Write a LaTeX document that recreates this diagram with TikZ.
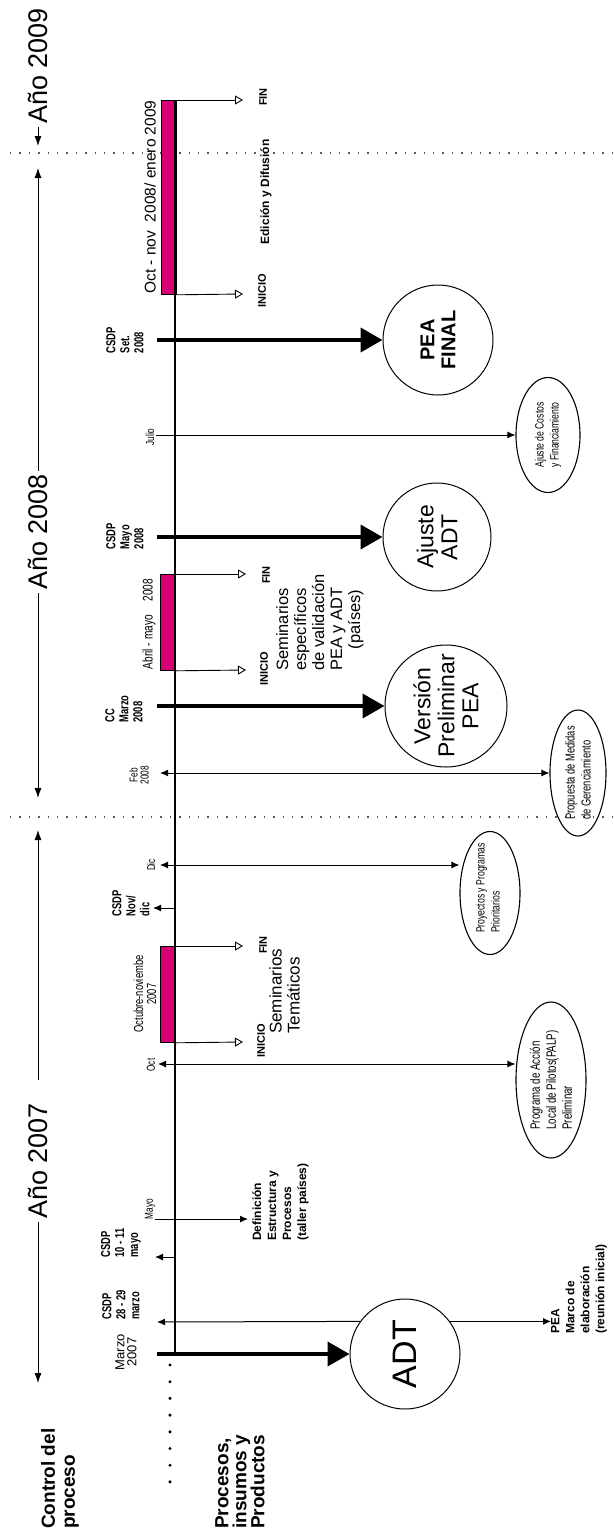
\documentclass[tikz,border=0pt]{standalone}
\usepackage{fontspec}
\setmainfont{Liberation Sans}
\newfontfamily\estrecha[FakeStretch=0.72]{Liberation Sans}
\usetikzlibrary{arrows.meta,shapes.geometric}
\definecolor{fucsia}{RGB}{214,0,116}

\tikzset{
  eje/.style={line width=2.6pt},
  separador/.style={line width=1.3pt, black!65, dash pattern=on 1.4pt off 8pt},
  anio/.style={rotate=90, inner sep=3pt, font={\fontsize{27}{27}\selectfont}},
  flechaanio/.style={-{Latex[length=10pt,width=7pt]}, line width=0.9pt},
  hito/.style={-{Latex[length=8pt,width=7pt]}, line width=1pt},
  hitodoble/.style={{Latex[length=8pt,width=7pt]}-{Latex[length=8pt,width=7pt]}, line width=1pt},
  producto/.style={-{Triangle[length=22pt,width=24pt]}, line width=4pt},
  limite/.style={-{Triangle[open,length=8pt,width=9pt]}, line width=0.9pt},
  periodo/.style={draw, line width=0.8pt, fill=fucsia, inner sep=0pt, anchor=north west, minimum width=15pt},
  resultado/.style={circle, draw, line width=1pt, inner sep=0pt},
  insumo/.style={ellipse, draw, line width=1.1pt, inner sep=0pt},
  fecha/.style={rotate=90, align=left, inner sep=0pt, font={\estrecha\bfseries\fontsize{13}{14}\selectfont}},
  mes/.style={rotate=90, align=center, inner sep=0pt, font={\estrecha\fontsize{11.5}{11}\selectfont}},
  marca/.style={rotate=90, inner sep=0pt, font={\bfseries\fontsize{11}{11}\selectfont}},
  nota/.style={rotate=90, align=left, anchor=north west, inner sep=0pt, font={\bfseries\fontsize{12}{15}\selectfont}},
  tema/.style={rotate=90, align=left, anchor=north west, inner sep=0pt, font={\fontsize{16.5}{18}\selectfont}},
  texto/.style={rotate=90, align=left, inner sep=0pt, font={\estrecha\fontsize{12}{15}\selectfont}},
  titulo/.style={rotate=90, align=left, anchor=north west, inner sep=0pt, font={\bfseries\fontsize{19}{19}\selectfont}}
}

\begin{document}
\begin{tikzpicture}[x=1pt,y=-1pt]
\useasboundingbox (0,0) rectangle (613,1531);

% Separadores de año
\draw[separador] (10,153) -- (613,153);
\draw[separador] (10,817) -- (613,817);

% Años
\node[anio] (a2009) at (38,66) {Año 2009};
\coordinate (l2009) at (38,146);
\draw[flechaanio] (a2009.west) -- (l2009);

\node[anio] (a2008) at (38,532) {Año 2008};
\coordinate (l2008a) at (38,168);
\coordinate (l2008b) at (38,798);
\draw[flechaanio] (a2008.east) -- (l2008a);
\draw[flechaanio] (a2008.west) -- (l2008b);

\node[anio] (a2007) at (38,1161) {Año 2007};
\coordinate (l2007a) at (38,830);
\coordinate (l2007b) at (38,1383);
\draw[flechaanio] ([yshift=20pt]a2007.east) -- (l2007a);
\draw[flechaanio] (a2007.west) -- (l2007b);

% Periodos
\node[periodo, minimum height=194pt] (edicion) at (161,100) {};
\node[periodo, minimum height=96pt] (validacion) at (160,574) {};
\node[periodo, minimum height=96pt] (tematicos) at (160,946) {};

% Eje
\coordinate (ejeSup) at (175,100);
\coordinate (ejeInf) at (175,1354);
\draw[eje] (ejeSup) -- (ejeInf);
\foreach \k in {0,...,7}
  \fill (170,1365+16.7*\k) circle (1.7pt);

% Inicio y fin
\coordinate (fin1) at (243,100);
\coordinate (ini1) at (243,294);
\draw[limite] (edicion.north east) -- (fin1);
\draw[limite] (edicion.south east) -- (ini1);
\coordinate (fin2) at (246,574);
\coordinate (ini2) at (246,670);
\draw[limite] (validacion.north east) -- (fin2);
\draw[limite] (validacion.south east) -- (ini2);
\coordinate (fin3) at (243,946);
\coordinate (ini3) at (243,1042);
\draw[limite] (tematicos.north east) -- (fin3);
\draw[limite] (tematicos.south east) -- (ini3);

\node[marca] (mFin1) at (263,97) {FIN};
\node[marca] (mIni1) at (262,291) {INICIO};
\node[marca] (mFin2) at (266,575) {FIN};
\node[marca] (mIni2) at (264,669) {INICIO};
\node[marca] (mFin3) at (263,945) {FIN};
\node[marca] (mIni3) at (261,1041) {INICIO};

% Textos de periodos
\node[rotate=90, inner sep=0pt, font={\fontsize{15.5}{15.5}\selectfont}] (lEdicion) at (150,197) {Oct - nov\ \ 2008/ enero 2009};
\node[rotate=90, inner sep=0pt, font={\estrecha\fontsize{14}{14}\selectfont}] (lValidacion) at (149,624) {Abril - mayo\quad 2008};
\node[rotate=90, inner sep=0pt, align=center, font={\estrecha\fontsize{13}{13}\selectfont}] (lTematicos) at (145,994) {Octubre-noviembe\\2007};
\node[marca, font={\bfseries\fontsize{12}{12}\selectfont}] (tEdicion) at (266,192) {Edición y Difusión};
\node[tema] (tValidacion) at (276,671) {Seminarios\\específicos\\de validación\\PEA y ADT\\\hspace*{1.3em}(países)};
\node[tema, font={\fontsize{17}{18}\selectfont}] (tTematicos) at (269,1034) {Seminarios\\Temáticos};

% Productos
\node[resultado, minimum size=110pt] (peaFinal) at (438,340) {};
\node[rotate=90, align=center, font={\bfseries\fontsize{20}{21}\selectfont}] (tPeaFinal) at (peaFinal) {PEA\\FINAL};
\node[resultado, minimum size=108pt] (ajusteAdt) at (437,537) {};
\node[rotate=90, align=center, font={\fontsize{23}{24}\selectfont}] (tAjusteAdt) at (ajusteAdt) {Ajuste\\ADT};
\node[resultado, minimum size=122pt] (version) at (446,706) {};
\node[rotate=90, align=center, font={\fontsize{23}{24}\selectfont}] (tVersion) at (version) {Versión\\Preliminar\\PEA};
\node[resultado, minimum size=110pt] (adt) at (405,1354) {};
\node[rotate=90, font={\fontsize{34}{34}\selectfont}] (tAdt) at (adt) {ADT};

\coordinate (hSet) at (157,340);
\coordinate (hMayo) at (157,537);
\coordinate (hMarzo) at (157,706);
\coordinate (hInicio) at (157,1354);
\draw[producto] (hSet) -- (peaFinal.west);
\draw[producto] (hMayo) -- (ajusteAdt.west);
\draw[producto] (hMarzo) -- (version.west);
\draw[producto] (hInicio) -- (adt.west);

% Insumos
\node[insumo, minimum width=64pt, minimum height=115pt] (eCostos) at (548,435) {};
\node[texto] (tCostos) at (eCostos) {Ajuste de Costos\\y Financiamiento};
\node[insumo, minimum width=56pt, minimum height=126pt] (eMedidas) at (578,773) {};
\node[texto, font={\estrecha\fontsize{13}{16}\selectfont}] (tMedidas) at (eMedidas) {Propuesta de Medidas\\de Gerenciamiento};
\node[insumo, minimum width=60pt, minimum height=123pt] (eProyectos) at (490,893) {};
\node[texto] (tProyectos) at (488,888) {Proyectos y Programas\\Prioritarios};
\node[insumo, minimum width=70pt, minimum height=156pt] (ePalp) at (551,1080) {};
\node[texto, font={\estrecha\fontsize{13.5}{16}\selectfont}] (tPalp) at (ePalp) {Programa de Acción\\Local de Pilotos(PALP)\\Preliminar};

\coordinate (cJul) at (156,435);
\draw[hito] (cJul) -- (eCostos.west);
\coordinate (cFeb) at (160,773);
\draw[hitodoble] (cFeb) -- (eMedidas.west);
\coordinate (cDic) at (160,865);
\draw[hitodoble] (cDic) -- (cDic -| eProyectos.west);
\coordinate (cOct) at (158,1064);
\draw[hitodoble] (cOct) -- (cOct -| ePalp.west);

% Hitos de control
\coordinate (eNov) at (175,908);
\coordinate (pNov) at (153,908);
\draw[hito] (eNov) -- (pNov);
\coordinate (eMay) at (175,1257);
\coordinate (pMay) at (155,1257);
\draw[hito] (eMay) -- (pMay);
\coordinate (pMar) at (157,1322);
\draw[hito] (adt.144) -- (pMar);
\coordinate (cMayo) at (155,1219);
\coordinate (pMayo) at (248,1219);
\draw[hito] (cMayo) -- (pMayo);

\node[nota] (tMarco) at (551,1334) {PEA\\Marco de\\elaboración\\(reunión inicial)};
\draw[hito] (adt.36) -- (adt.36 -| tMarco.north);
\node[nota] (tDefinicion) at (252,1241) {Definición\\Estructura y\\Procesos\\(taller países)};

% Fechas
\node[fecha] (fSet) at (125,340) {CSDP\\Set.\\2008};
\node[fecha] (fMayo08) at (125,536) {CSDP\\Mayo\\2008};
\node[fecha] (fMarzo08) at (124,709) {CC\\Marzo\\2008};
\node[fecha] (fNov) at (131,903) {CSDP\\Nov/\\dic};
\node[fecha] (fMayo07) at (121,1243) {CSDP\\10 - 11\\mayo};
\node[fecha] (fMarzo07) at (121,1305) {CSDP\\28 - 29\\marzo};
\node[rotate=90, align=center, inner sep=0pt, font={\fontsize{13}{12}\selectfont}] (fInicio) at (126,1352) {Marzo\\2007};

\node[mes] (mJul) at (150,437) {Julio};
\node[mes] (mFeb) at (139,775) {Feb\\2008};
\node[mes] (mDic) at (151,865) {Dic};
\node[mes] (mOct) at (151,1065) {Oct};
\node[mes] (mMay) at (150,1209) {Mayo};

% Titulos
\node[titulo, font={\bfseries\fontsize{19}{20}\selectfont}] (tControl) at (41,1529) {Control del\\proceso};
\node[titulo, font={\bfseries\fontsize{19}{18}\selectfont}] (tProcesos) at (215,1529) {Procesos,\\insumos y\\Productos};

\end{tikzpicture}
\end{document}
